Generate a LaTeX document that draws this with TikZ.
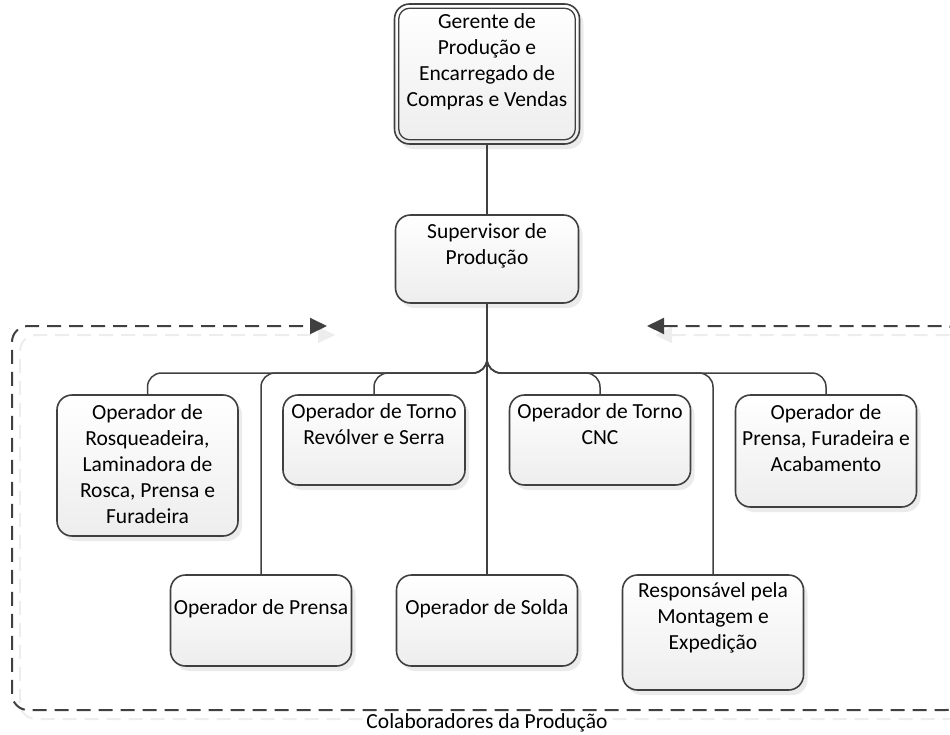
\documentclass[tikz,border=0pt]{standalone}
\usepackage{fontspec}
\setmainfont{Carlito}
\usetikzlibrary{shadows,arrows.meta,calc}

\definecolor{edge}{HTML}{404040}

\tikzset{
  box/.style={draw=edge, line width=1.6pt, rounded corners=15pt,
    top color=white, bottom color=black!7, inner sep=0pt,
    drop shadow={shadow xshift=4pt, shadow yshift=-5pt, fill=black, opacity=0.08}},
  lbl/.style={align=center, font=\fontsize{21.5}{26}\selectfont, inner sep=0pt, anchor=north},
  conn/.style={draw=edge, line width=1.5pt, rounded corners=14pt},
  frame/.style={line width=2pt, dash pattern=on 14pt off 8pt, rounded corners=16pt,
    {Triangle[length=17pt,width=16pt]}-{Triangle[length=17pt,width=16pt]}},
}

\begin{document}
\begin{tikzpicture}[x=1pt,y=-1pt]
\useasboundingbox (0,0) rectangle (950,734);

% dashed group frame with its faint shadow
\draw[frame, draw=black!7, fill=none] (655,335) -- (970,335) -- (970,719) -- (20,719) -- (20,335) -- (335,335);
\draw[frame, draw=edge] (647,326) -- (962,326) -- (962,710) -- (12,710) -- (12,326) -- (327,326);
\node[lbl, anchor=center] (grp) at (487,723) {Colaboradores da Produção};

% boxes
\node[box, minimum width=185pt, minimum height=140pt] (ger) at (487,74) {};
\draw[draw=edge, line width=1.3pt, rounded corners=11pt]
  ([shift={(5pt,-5pt)}]ger.north west) rectangle ([shift={(-5pt,5pt)}]ger.south east);
\node[box, minimum width=183pt, minimum height=88pt]  (sup) at (487,259) {};

\node[box, minimum width=181pt, minimum height=141pt] (rosq)     at (147.5,465.5) {};
\node[box, minimum width=182pt, minimum height=90pt]  (revolver) at (374,440) {};
\node[box, minimum width=181pt, minimum height=90pt]  (cnc)      at (600,440) {};
\node[box, minimum width=181pt, minimum height=112pt] (pfa)      at (826,451) {};
\node[box, minimum width=181pt, minimum height=91pt]  (prensa)   at (261,620.5) {};
\node[box, minimum width=181pt, minimum height=91pt]  (solda)    at (487,620.5) {};
\node[box, minimum width=181pt, minimum height=115pt] (resp)     at (713,632.5) {};

% texts
\node[lbl] (tger) at ([yshift=-10pt]ger.north) {Gerente de\\Produção e\\Encarregado de\\Compras e Vendas};
\node[lbl] (tsup) at ([yshift=-9pt]sup.north) {Supervisor de\\Produção};
\node[lbl] (trosq) at ([yshift=-10pt]rosq.north) {Operador de\\Rosqueadeira,\\Laminadora de\\Rosca, Prensa e\\Furadeira};
\node[lbl] (trev) at ([yshift=-9pt]revolver.north) {Operador de Torno\\Revólver e Serra};
\node[lbl] (tcnc) at ([yshift=-9pt]cnc.north) {Operador de Torno\\CNC};
\node[lbl] (tpfa) at ([yshift=-10pt]pfa.north) {Operador de\\Prensa, Furadeira e\\Acabamento};
\node[lbl] (tpre) at ([yshift=-25pt]prensa.north) {Operador de Prensa};
\node[lbl] (tsol) at ([yshift=-25pt]solda.north) {Operador de Solda};
\node[lbl] (tres) at ([yshift=-8pt]resp.north) {Responsável pela\\Montagem e\\Expedição};

% connectors
\coordinate (bus) at (487,373);
\draw[conn] (ger.south) -- (sup.north);
\foreach \t in {rosq,revolver,cnc,pfa,prensa,resp}
  \draw[conn] (sup.south) |- (\t.north |- bus) -- (\t.north);
\draw[conn] (sup.south) -- (solda.north);
\end{tikzpicture}
\end{document}
